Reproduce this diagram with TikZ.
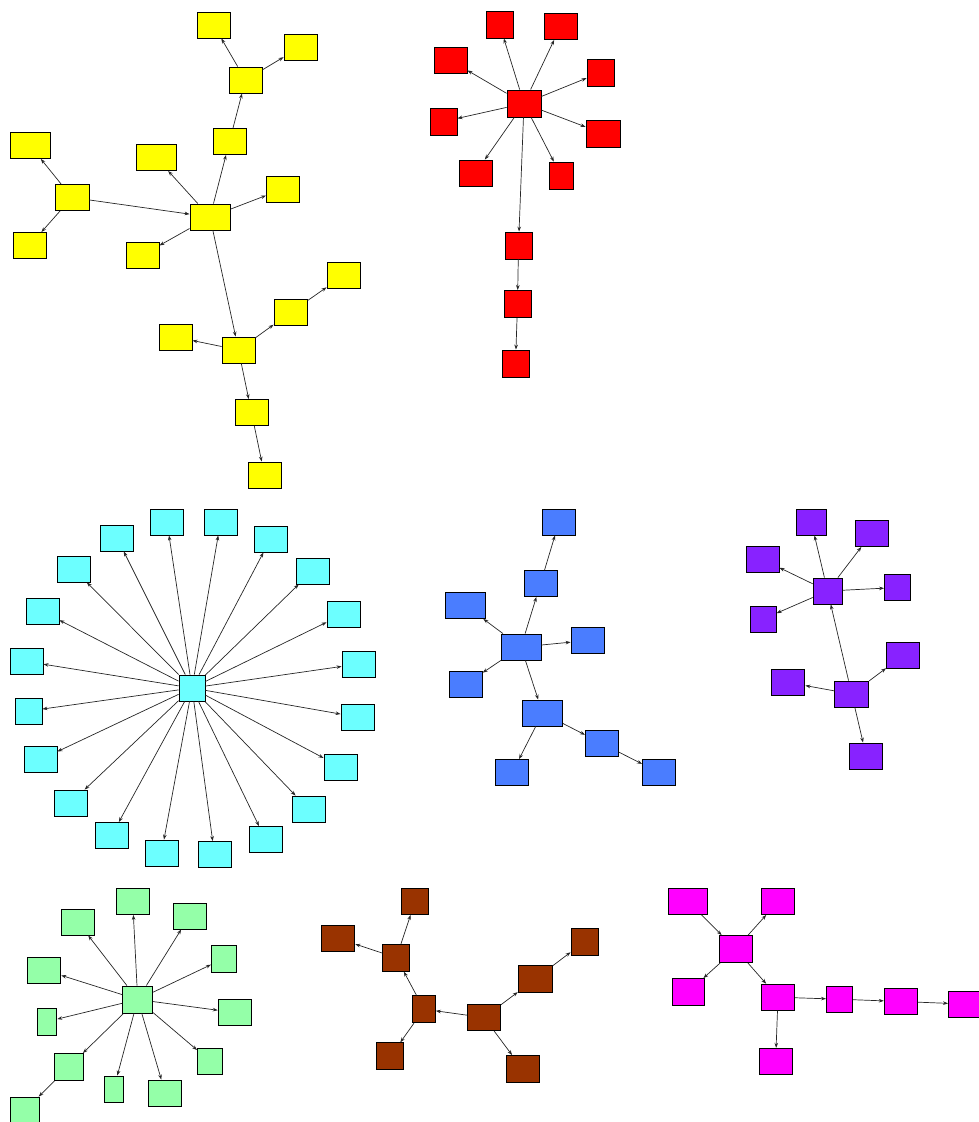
\documentclass[tikz,border=0pt]{standalone}
\usetikzlibrary{arrows.meta}
\definecolor{ye}{RGB}{255,255,0}
\definecolor{re}{RGB}{255,0,0}
\definecolor{cy}{HTML}{6CFFFF}
\definecolor{bl}{HTML}{4A7DFF}
\definecolor{pu}{HTML}{8822FF}
\definecolor{gr}{HTML}{94FFA8}
\definecolor{br}{HTML}{993300}
\definecolor{mg}{RGB}{255,0,255}
\tikzset{
  box/.style={draw=black, line width=0.9pt, inner sep=0pt, minimum width=33pt, minimum height=26pt},
  yb/.style={box, fill=ye},
  rb/.style={box, fill=re},
  cb/.style={box, fill=cy},
  bb/.style={box, fill=bl},
  pb/.style={box, fill=pu},
  gb/.style={box, fill=gr},
  nb/.style={box, fill=br},
  mb/.style={box, fill=mg},
  arr/.style={draw=black!85, line width=0.7pt, -{Stealth[length=5pt,width=3.6pt]}}
}
\begin{document}
\begin{tikzpicture}[x=1pt,y=-1pt]
\useasboundingbox (0,0) rectangle (979,1122);
% ---------- yellow ----------
\node[yb] (y1) at (213.5,25) {};
\node[yb] (y2) at (300.5,47) {};
\node[yb] (y3) at (245.5,80) {};
\node[yb] (y4) at (229.5,141.5) {};
\node[yb,minimum width=40pt] (y5) at (30,145.5) {};
\node[yb,minimum width=40pt] (y6) at (156,157.5) {};
\node[yb,minimum width=34pt] (y7) at (72,197.5) {};
\node[yb,minimum width=40pt] (y8) at (210,217) {};
\node[yb] (y9) at (283,189) {};
\node[yb] (y10) at (29.5,245.5) {};
\node[yb] (y11) at (142.5,255) {};
\node[yb] (y12) at (343.5,275.5) {};
\node[yb] (y13) at (290.5,312.5) {};
\node[yb] (y14) at (175.5,337) {};
\node[yb] (y15) at (238.5,350) {};
\node[yb] (y16) at (251.5,412.5) {};
\node[yb] (y17) at (264.5,475) {};
\draw[arr] (y3) -- (y1);
\draw[arr] (y3) -- (y2);
\draw[arr] (y4) -- (y3);
\draw[arr] (y8) -- (y4);
\draw[arr] (y7) -- (y5);
\draw[arr] (y7) -- (y8);
\draw[arr] (y7) -- (y10);
\draw[arr] (y8) -- (y6);
\draw[arr] (y8) -- (y9);
\draw[arr] (y8) -- (y11);
\draw[arr] (y8) -- (y15);
\draw[arr] (y15) -- (y14);
\draw[arr] (y15) -- (y13);
\draw[arr] (y13) -- (y12);
\draw[arr] (y15) -- (y16);
\draw[arr] (y16) -- (y17);
% ---------- red ----------
\node[rb,minimum width=27pt,minimum height=27pt] (r1) at (499.5,24.5) {};
\node[rb] (r2) at (560.5,26.5) {};
\node[rb] (r3) at (450.5,60.5) {};
\node[rb,minimum width=27pt,minimum height=27pt] (r4) at (600.5,72.5) {};
\node[rb,minimum width=34pt,minimum height=27pt] (r5) at (524,103.5) {};
\node[rb,minimum width=27pt,minimum height=27pt] (r6) at (443.5,121.5) {};
\node[rb,minimum width=34pt,minimum height=27pt] (r7) at (603,133.5) {};
\node[rb] (r8) at (475.5,173) {};
\node[rb,minimum width=24pt,minimum height=27pt] (r9) at (561,175.5) {};
\node[rb,minimum width=27pt,minimum height=27pt] (r10) at (518.5,245.5) {};
\node[rb,minimum width=27pt,minimum height=27pt] (r11) at (517.5,304) {};
\node[rb,minimum width=27pt,minimum height=27pt] (r12) at (515.5,363.5) {};
\foreach \t in {r1,r2,r3,r4,r6,r7,r8,r9,r10} \draw[arr] (r5) -- (\t);
\draw[arr] (r10) -- (r11);
\draw[arr] (r11) -- (r12);
% ---------- cyan ----------
\node[cb,minimum width=26pt] (c0) at (192,688) {};
\node[cb] (c1) at (167,522) {};
\node[cb] (c2) at (220.5,522) {};
\node[cb] (c3) at (117,538) {};
\node[cb] (c4) at (270.5,539) {};
\node[cb] (c5) at (73.5,569) {};
\node[cb] (c6) at (312.5,571) {};
\node[cb] (c7) at (42.5,611.5) {};
\node[cb] (c8) at (343.5,614) {};
\node[cb] (c9) at (26.5,661.5) {};
\node[cb] (c10) at (358.5,664) {};
\node[cb,minimum width=27pt] (c11) at (28.5,711) {};
\node[cb] (c12) at (357.5,717) {};
\node[cb] (c13) at (40.5,759.5) {};
\node[cb] (c14) at (340.5,767) {};
\node[cb] (c15) at (70.5,803) {};
\node[cb] (c16) at (308.5,809) {};
\node[cb] (c17) at (111.5,835.5) {};
\node[cb] (c18) at (265.5,839.5) {};
\node[cb] (c19) at (161.5,853) {};
\node[cb] (c20) at (214.5,854.5) {};
\foreach \i in {1,...,20} \draw[arr] (c0) -- (c\i);
% ---------- blue ----------
\node[bb] (b1) at (559,522) {};
\node[bb] (b2) at (540.5,583.5) {};
\node[bb,minimum width=40pt] (b3) at (465.3,605.5) {};
\node[bb,minimum width=40pt] (b4) at (521,647) {};
\node[bb] (b5) at (587.5,640.5) {};
\node[bb] (b6) at (465.7,684) {};
\node[bb,minimum width=40pt] (b7) at (542.6,713) {};
\node[bb] (b8) at (601.9,743.5) {};
\node[bb] (b9) at (512.2,772.5) {};
\node[bb] (b10) at (659,772.5) {};
\draw[arr] (b4) -- (b2);
\draw[arr] (b2) -- (b1);
\draw[arr] (b4) -- (b3);
\draw[arr] (b4) -- (b5);
\draw[arr] (b4) -- (b6);
\draw[arr] (b4) -- (b7);
\draw[arr] (b7) -- (b9);
\draw[arr] (b7) -- (b8);
\draw[arr] (b8) -- (b10);
% ---------- purple ----------
\node[pb,minimum width=30pt] (p1) at (811.3,522) {};
\node[pb] (p2) at (871.6,533.5) {};
\node[pb] (p3) at (762.5,559.5) {};
\node[pb,minimum width=29pt] (p4) at (827.6,591) {};
\node[pb,minimum width=26pt] (p5) at (897.5,587.5) {};
\node[pb,minimum width=26pt] (p6) at (763.2,619) {};
\node[pb] (p7) at (903,655.5) {};
\node[pb] (p8) at (788.4,682.5) {};
\node[pb,minimum width=34pt] (p9) at (851.7,694) {};
\node[pb] (p10) at (866.2,756) {};
\draw[arr] (p4) -- (p1);
\draw[arr] (p4) -- (p2);
\draw[arr] (p4) -- (p3);
\draw[arr] (p4) -- (p5);
\draw[arr] (p4) -- (p6);
\draw[arr] (p9) -- (p4);
\draw[arr] (p9) -- (p8);
\draw[arr] (p9) -- (p7);
\draw[arr] (p9) -- (p10);
% ---------- green ----------
\node[gb,minimum width=30pt,minimum height=27pt] (g0) at (137.7,999.5) {};
\node[gb] (g1) at (132.7,901.5) {};
\node[gb] (g2) at (77.8,922) {};
\node[gb] (g3) at (189.5,916) {};
\node[gb] (g4) at (44.3,970) {};
\node[gb,minimum width=25pt,minimum height=27pt] (g5) at (224,958.5) {};
\node[gb] (g7) at (234.7,1012.5) {};
\node[gb,minimum width=19pt,minimum height=27pt] (g8) at (47.3,1021.5) {};
\node[gb,minimum width=29pt,minimum height=27pt] (g9) at (68.7,1067) {};
\node[gb,minimum width=25pt] (g10) at (210,1061) {};
\node[gb,minimum width=19pt] (g11) at (113.7,1089) {};
\node[gb] (g12) at (165.3,1093) {};
\node[gb,minimum width=29.5pt] (g13) at (25,1110) {};
\foreach \t in {g1,g2,g3,g4,g5,g7,g8,g9,g10,g11,g12} \draw[arr] (g0) -- (\t);
\draw[arr] (g9) -- (g13);
% ---------- brown ----------
\node[nb,minimum width=27pt] (n1) at (415,901.5) {};
\node[nb] (n2) at (338.3,938.5) {};
\node[nb,minimum width=27pt,minimum height=27pt] (n3) at (396.4,957.7) {};
\node[nb,minimum width=27pt,minimum height=27pt] (n4) at (584.5,941.7) {};
\node[nb,minimum width=34pt,minimum height=27pt] (n5) at (535.2,979) {};
\node[nb,minimum width=23pt,minimum height=27pt] (n6) at (423.9,1009.2) {};
\node[nb] (n7) at (484,1017.5) {};
\node[nb,minimum width=27pt,minimum height=27pt] (n8) at (390.4,1056.3) {};
\node[nb,minimum height=27pt] (n9) at (522.5,1069) {};
\draw[arr] (n7) -- (n6);
\draw[arr] (n7) -- (n5);
\draw[arr] (n5) -- (n4);
\draw[arr] (n7) -- (n9);
\draw[arr] (n6) -- (n3);
\draw[arr] (n6) -- (n8);
\draw[arr] (n3) -- (n1);
\draw[arr] (n3) -- (n2);
% ---------- magenta ----------
\node[mb,minimum width=39pt] (m1) at (688,901.5) {};
\node[mb] (m2) at (778.3,901.5) {};
\node[mb,minimum height=27pt] (m3) at (735.6,949) {};
\node[mb,minimum width=32pt,minimum height=27pt] (m4) at (688,992) {};
\node[mb] (m5) at (778,997.2) {};
\node[mb,minimum width=26pt] (m6) at (839.4,999.2) {};
\node[mb] (m7) at (900.8,1001.5) {};
\node[mb] (m8) at (965,1004) {};
\node[mb] (m9) at (775.6,1061.3) {};
\draw[arr] (m1) -- (m3);
\draw[arr] (m3) -- (m2);
\draw[arr] (m3) -- (m4);
\draw[arr] (m3) -- (m5);
\draw[arr] (m5) -- (m6);
\draw[arr] (m6) -- (m7);
\draw[arr] (m7) -- (m8);
\draw[arr] (m5) -- (m9);
\end{tikzpicture}
\end{document}
